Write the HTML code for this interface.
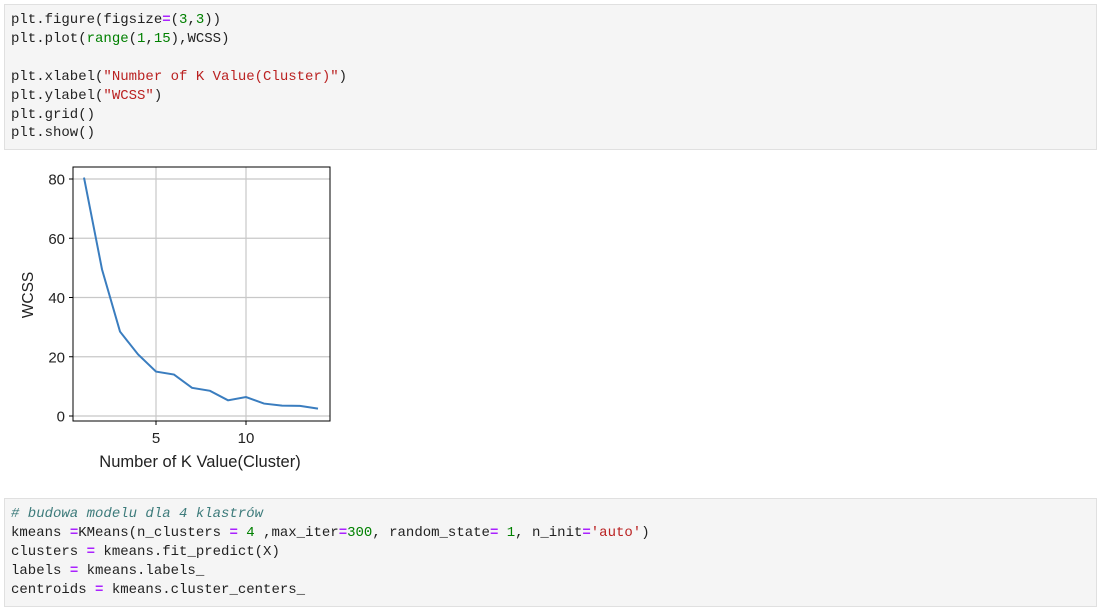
<!DOCTYPE html>
<html><head><meta charset="utf-8"><style>
body{margin:0;width:1103px;height:612px;background:#fff;position:relative;overflow:hidden;font-family:"Liberation Sans",sans-serif}
.cell{position:absolute;left:4px;width:1093px;background:#f5f5f5;border:1px solid #e0e0e0;box-sizing:border-box}
pre{margin:0;position:absolute;left:6px;font-family:"Liberation Mono",monospace;font-size:14px;letter-spacing:0;line-height:18.9px;color:#222}
.p{color:#aa22ff;font-weight:bold}.g{color:#008000}.s{color:#ba2121}.c{color:#3d7b7b;font-style:italic}
</style></head><body>
<div class="cell" style="top:4px;height:146px">
<pre style="top:6px">plt.figure(figsize<span class="p">=</span>(<span class="g">3</span>,<span class="g">3</span>))
plt.plot(<span class="g">range</span>(<span class="g">1</span>,<span class="g">15</span>),WCSS)

plt.xlabel(<span class="s">"Number of K Value(Cluster)"</span>)
plt.ylabel(<span class="s">"WCSS"</span>)
plt.grid()
plt.show()</pre></div>
<div class="cell" style="top:498px;height:109px">
<pre style="top:6px"><span class="c"># budowa modelu dla 4 klastrów</span>
kmeans <span class="p">=</span>KMeans(n_clusters <span class="p">=</span> <span class="g">4</span> ,max_iter<span class="p">=</span><span class="g">300</span>, random_state<span class="p">=</span> <span class="g">1</span>, n_init<span class="p">=</span><span class="s">'auto'</span>)
clusters <span class="p">=</span> kmeans.fit_predict(X)
labels <span class="p">=</span> kmeans.labels_
centroids <span class="p">=</span> kmeans.cluster_centers_</pre></div>
<svg id="chart" width="1103" height="612" style="position:absolute;left:0;top:0" font-family="Liberation Sans, DejaVu Sans, sans-serif"></svg>
<script>
const kValues=[1,2,3,4,5,6,7,8,9,10,11,12,13,14];
const wcss=[80.5,49.5,28.5,20.8,15,14,9.5,8.5,5.3,6.4,4.2,3.5,3.4,2.5];
const xTicks=[5,10];
const yTicks=[0,20,40,60,80];
const NS="http://www.w3.org/2000/svg";
const svg=document.getElementById('chart');
const L=73,R=330,T=167,B=421;
const xs=v=>84+(v-1)*18;
const ys=v=>416-v*2.9625;
function mk(tag,at,parent){const e=document.createElementNS(NS,tag);for(const k in at)e.setAttribute(k,at[k]);(parent||svg).appendChild(e);return e;}
xTicks.forEach(t=>{
  const g=mk('line',{x1:xs(t),x2:xs(t),y1:T,y2:B,stroke:'#c8c8c8','stroke-width':1.2});
  
  
  mk('line',{x1:xs(t),x2:xs(t),y1:B,y2:B+4,stroke:'#000'});
  const tx=mk('text',{x:xs(t),y:B+22,'text-anchor':'middle','font-size':15,fill:'#222'});
  tx.textContent=t;
  
  
});
yTicks.forEach(t=>{
  const g=mk('line',{x1:L,x2:R,y1:ys(t),y2:ys(t),stroke:'#c8c8c8','stroke-width':1.2});
  
  
  mk('line',{x1:L-4,x2:L,y1:ys(t),y2:ys(t),stroke:'#000'});
  const tx=mk('text',{x:L-8,y:ys(t)+5.5,'text-anchor':'end','font-size':15,fill:'#222'});
  tx.textContent=t;
  
  
});
const line=mk('polyline',{points:kValues.map((k,i)=>xs(k)+','+ys(wcss[i])).join(' '),fill:'none',stroke:'#3a7dbf','stroke-width':2});


const frame=mk('rect',{x:L,y:T,width:R-L,height:B-T,fill:'none',stroke:'#000','stroke-width':1});


const xl=mk('text',{x:200,y:467,'text-anchor':'middle','font-size':16.5,fill:'#222'});
xl.textContent='Number of K Value(Cluster)';


const yl=mk('text',{x:0,y:0,'text-anchor':'middle','font-size':15.5,fill:'#222',transform:'translate(33,295) rotate(-90)'});
yl.textContent='WCSS';


</script>
</body></html>
